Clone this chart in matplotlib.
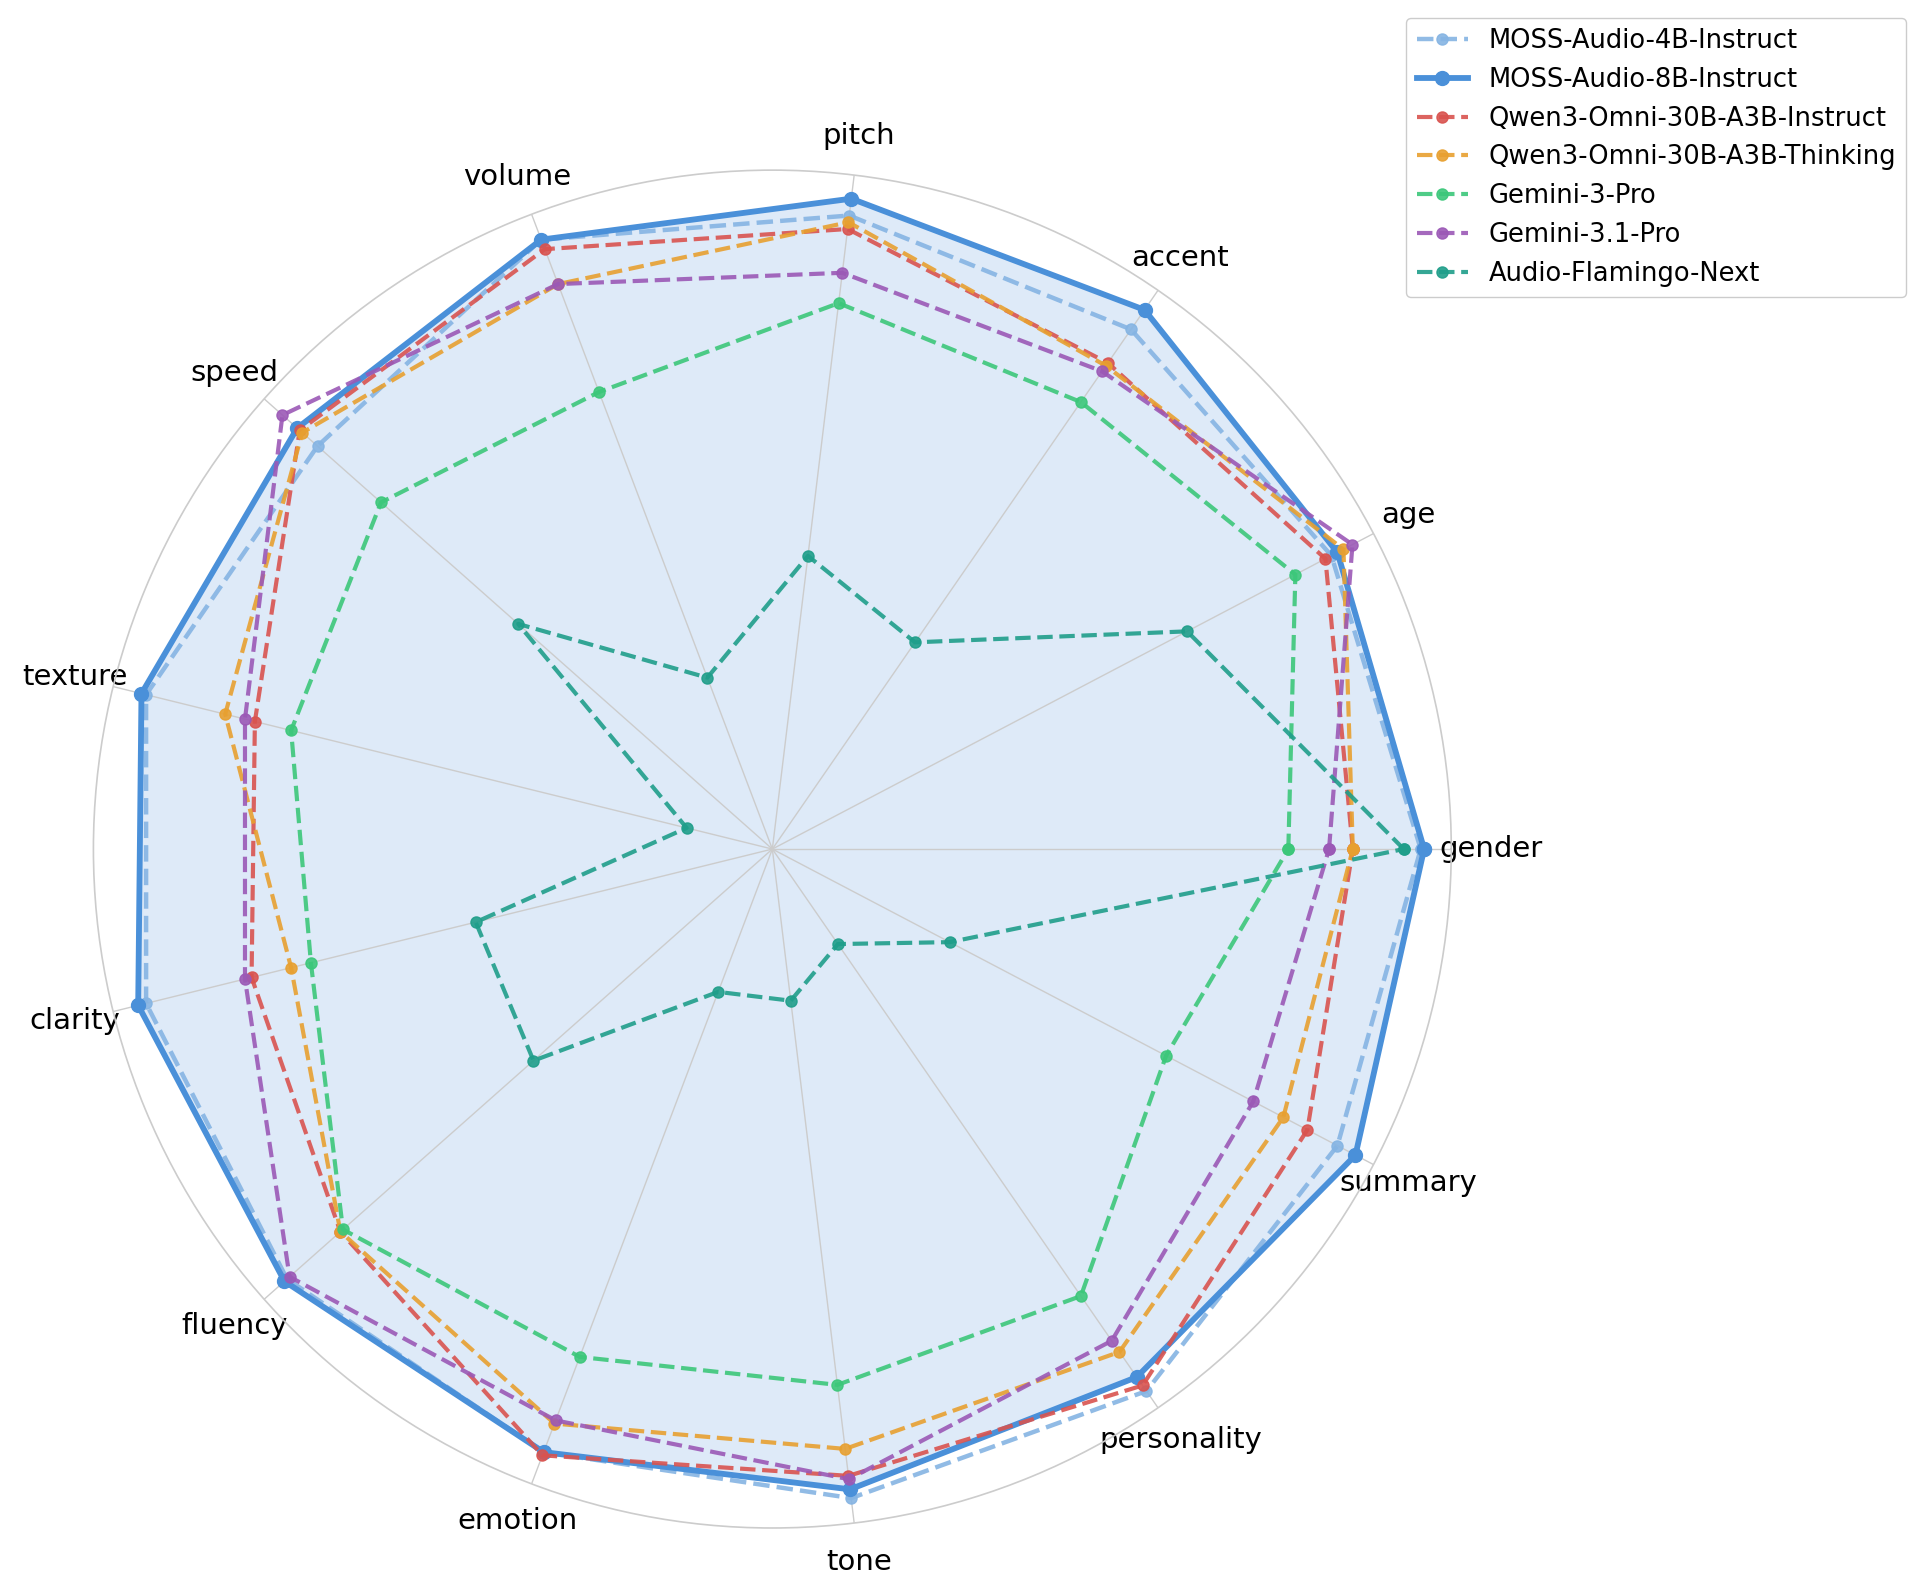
import numpy as np
import matplotlib
matplotlib.use("Agg")
import matplotlib.pyplot as plt

categories = ["gender", "age", "accent", "pitch", "volume", "speed", "texture",
              "clarity", "fluency", "emotion", "tone", "personality", "summary"]

moss_4b = [0.955, 0.93, 0.93, 0.94, 0.96, 0.895, 0.95, 0.95, 0.955, 0.95, 0.963, 0.97, 0.94]
moss_8b = [0.96, 0.94, 0.965, 0.965, 0.96, 0.935, 0.957, 0.962, 0.96, 0.95, 0.95, 0.945, 0.97]
qwen_inst = [0.855, 0.92, 0.87, 0.92, 0.945, 0.93, 0.785, 0.79, 0.85, 0.955, 0.93, 0.96, 0.89]
qwen_think = [0.855, 0.95, 0.865, 0.93, 0.89, 0.925, 0.83, 0.73, 0.85, 0.905, 0.89, 0.90, 0.85]
gemini3 = [0.76, 0.87, 0.80, 0.81, 0.72, 0.77, 0.73, 0.70, 0.845, 0.80, 0.795, 0.80, 0.655]
gemini31 = [0.82, 0.965, 0.855, 0.855, 0.89, 0.964, 0.80, 0.80, 0.95, 0.90, 0.935, 0.88, 0.80]
af_next = [0.93, 0.69, 0.37, 0.435, 0.27, 0.50, 0.13, 0.45, 0.47, 0.225, 0.225, 0.17, 0.295]

series = [
    ("MOSS-Audio-4B-Instruct", moss_4b, "#85b4e3", "--", 3.2, 8),
    ("MOSS-Audio-8B-Instruct", moss_8b, "#4a90d9", "-", 4.2, 10),
    ("Qwen3-Omni-30B-A3B-Instruct", qwen_inst, "#d9534f", "--", 3.0, 8),
    ("Qwen3-Omni-30B-A3B-Thinking", qwen_think, "#e8a030", "--", 3.0, 8),
    ("Gemini-3-Pro", gemini3, "#3cc77a", "--", 3.0, 8),
    ("Gemini-3.1-Pro", gemini31, "#9b59b6", "--", 3.0, 8),
    ("Audio-Flamingo-Next", af_next, "#1f9e8a", "--", 3.0, 8),
]

n = len(categories)
angles = np.linspace(0, 2 * np.pi, n, endpoint=False)
ang_c = np.concatenate([angles, angles[:1]])

fig = plt.figure(figsize=(19.27, 15.9), dpi=100)
ax = fig.add_axes([0.0483, 0.039, 0.705, 0.854], projection="polar")

for name, vals, col, ls, lw, ms in series:
    v = np.concatenate([vals, vals[:1]])
    ax.plot(ang_c, v, linestyle=ls, color=col, linewidth=lw, marker="o",
            markersize=ms, label=name, alpha=0.9 if ls == "--" else 1.0)
    if name == "MOSS-Audio-8B-Instruct":
        ax.fill(ang_c, v, color=col, alpha=0.18)

ax.set_ylim(0, 1.0)
ax.set_yticks([])
ax.set_xticks(angles)
ax.set_xticklabels(categories, fontsize=21)
ax.tick_params(axis="x", pad=18)
ax.xaxis.grid(True, color="#cccccc", linewidth=1.0)
ax.spines["polar"].set_color("#cccccc")
ax.spines["polar"].set_linewidth(1.2)

fig.legend(loc="upper right", bbox_to_anchor=(0.996, 0.997), fontsize=18.5,
           framealpha=1, edgecolor="#cccccc")

fig.savefig("out.png", dpi=100)
